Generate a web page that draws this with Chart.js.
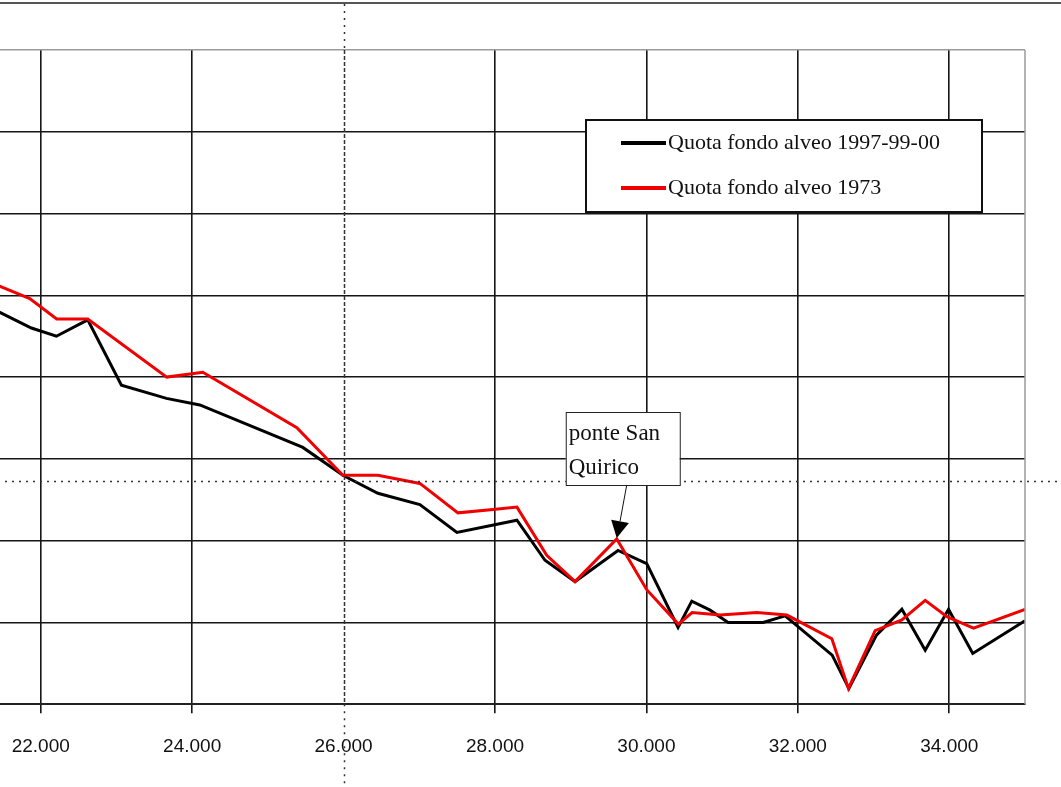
<!DOCTYPE html>
<html>
<head>
<meta charset="utf-8">
<script src="https://cdn.jsdelivr.net/npm/chart.js@4.4.0/dist/chart.umd.min.js"></script>
<style>
html, body { margin:0; padding:0; background:#fff; overflow:hidden; }
#wrap { position:absolute; left:-100px; top:0; width:1161px; height:787px; }
</style>
</head>
<body>
<div id="wrap"><canvas id="profilo" width="1161" height="787"></canvas></div>
<script>
// progressiva (m) e quota fondo alveo
const nomi = ['Quota fondo alveo 1997-99-00', 'Quota fondo alveo 1973'];

const kmRilievo = [21440, 21877, 22207, 22621, 23066, 23661, 24101, 25462, 25991, 26453, 27008, 27497, 28290, 28660, 29057, 29625, 30004, 30418, 30599, 30841, 31079, 31541, 31832, 32453, 32674, 33035, 33374, 33682, 33990, 34310, 35000];
const quotaRilievo = [64.0, 63.0, 62.5, 63.5, 59.5, 58.7, 58.3, 55.7, 54.0, 52.9, 52.2, 50.5, 51.25, 48.8, 47.5, 49.4, 48.6, 44.7, 46.3, 45.75, 45.0, 45.0, 45.4, 43.0, 40.96, 44.2, 45.8, 43.3, 45.8, 43.1, 45.1];

const km1973 = [21440, 21855, 22211, 22621, 23665, 24141, 25383, 25991, 26453, 27008, 27511, 27973, 28290, 28683, 29057, 29608, 30004, 30422, 30603, 30973, 31458, 31855, 32449, 32668, 33021, 33374, 33682, 33969, 34320, 35000];
const quota1973 = [65.6, 64.8, 63.55, 63.55, 60.0, 60.3, 56.9, 54.0, 54.0, 53.5, 51.7, 51.9, 52.05, 49.1, 47.5, 50.1, 47.0, 44.9, 45.6, 45.45, 45.6, 45.45, 44.0, 40.96, 44.5, 45.15, 46.35, 45.35, 44.65, 45.8];

const tickKm = [22000, 24000, 26000, 28000, 30000, 32000, 34000];

const kmPonte = 29608; // ponte San Quirico
const kmCursore = 26000;
const quotaCursore = 53.64;
const kmMin = 21000, kmMax = 35000;

const ctx = document.getElementById('profilo').getContext('2d');

const decorazioni = {
    id: 'decorazioni',
    afterDraw(chart) {
        const c = chart.ctx;
        const ca = chart.chartArea;
        const W = chart.width, H = chart.height;
        const xs = chart.scales.x, ys = chart.scales.y;
        c.save();

        // riga in alto
        c.fillStyle = '#555';
        c.fillRect(0, 2, W, 2);

        // bordo destro
        c.strokeStyle = '#9a9a9a';
        c.lineWidth = 1.5;
        c.beginPath();
        c.moveTo(ca.right, ca.top);
        c.lineTo(ca.right, ca.bottom);
        c.stroke();

        // cursore tratteggiato
        const xc = Math.round(xs.getPixelForValue(kmCursore)) + 0.5;
        const yc = Math.round(ys.getPixelForValue(quotaCursore)) + 0.5;
        c.strokeStyle = '#333';
        c.lineWidth = 1.5;
        c.setLineDash([2, 5]);
        c.beginPath();
        c.moveTo(xc, 4); c.lineTo(xc, ca.top);
        c.moveTo(xc, ca.bottom); c.lineTo(xc, H);
        c.moveTo(0, yc); c.lineTo(W, yc);
        c.stroke();
        c.setLineDash([4, 2]);
        c.beginPath();
        c.moveTo(xc, ca.top); c.lineTo(xc, ca.bottom);
        c.stroke();
        c.setLineDash([]);

        // legenda
        const lx = ca.right - 439, ly = ca.top + 70;
        c.fillStyle = '#fff';
        c.fillRect(lx, ly, 396, 92);
        c.strokeStyle = '#111';
        c.lineWidth = 2;
        c.strokeRect(lx, ly, 396, 92);
        c.font = '22px "Liberation Serif"';
        c.textBaseline = 'middle';
        chart.data.datasets.forEach((ds, i) => {
            const yy = ly + 23 + i * 45;
            c.strokeStyle = ds.borderColor;
            c.lineWidth = 4;
            c.beginPath();
            c.moveTo(lx + 35, yy); c.lineTo(lx + 80, yy);
            c.stroke();
            c.fillStyle = '#111';
            c.fillText(ds.label, lx + 82, yy);
        });

        // etichetta ponte San Quirico
        const meta = chart.getDatasetMeta(1);
        const pt = meta.data[km1973.indexOf(kmPonte)];
        const tx = pt.x, ty = pt.y;
        c.fillStyle = '#fff';
        c.fillRect(tx - 51, ty - 127, 114, 73);
        c.strokeStyle = '#222';
        c.lineWidth = 1;
        c.strokeRect(tx - 50.5, ty - 126.5, 114, 73);
        c.fillStyle = '#111';
        c.font = '23px "Liberation Serif"';
        c.textBaseline = 'alphabetic';
        c.fillText('ponte San', tx - 48, ty - 99);
        c.fillText('Quirico', tx - 48, ty - 65);
        // freccia
        const x0 = tx + 10, y0 = ty - 54;
        const dx = tx - x0, dy = ty - y0;
        const len = Math.hypot(dx, dy);
        const ux = dx / len, uy = dy / len;
        const bx = tx - ux * 18, by = ty - uy * 18;
        c.strokeStyle = '#111';
        c.lineWidth = 1;
        c.beginPath();
        c.moveTo(x0, y0); c.lineTo(bx, by);
        c.stroke();
        c.fillStyle = '#000';
        c.beginPath();
        c.moveTo(tx, ty - 1);
        c.lineTo(bx - uy * 9, by + ux * 9);
        c.lineTo(bx + uy * 9, by - ux * 9);
        c.closePath();
        c.fill();

        c.restore();
    }
};

const graficoProfilo = new Chart(ctx, {
    type: 'line',
    data: {
        datasets: [{
            label: nomi[0],
            data: kmRilievo.map((k, i) => ({ x: k, y: quotaRilievo[i] })),
            borderColor: '#000000',
            borderWidth: 3,
            pointRadius: 0,
            tension: 0,
            order: 1
        }, {
            label: nomi[1],
            data: km1973.map((k, i) => ({ x: k, y: quota1973[i] })),
            borderColor: '#f00000',
            borderWidth: 3,
            pointRadius: 0,
            tension: 0,
            order: 0
        }]
    },
    options: {
        responsive: false,
        animation: false,
        layout: {
            padding: { left: 65, right: 36, top: 50, bottom: 7 }
        },
        plugins: {
            legend: { display: false },
            tooltip: { enabled: false }
        },
        scales: {
            x: {
                type: 'linear',
                min: kmMin,
                max: kmMax,
                afterBuildTicks: axis => {
                    axis.ticks = tickKm.map(v => ({ value: v }));
                },
                ticks: {
                    padding: 22,
                    color: '#111',
                    font: { family: 'Liberation Sans', size: 19 },
                    callback: v => (v / 1000).toFixed(3)
                },
                grid: {
                    color: c => c.tick && c.tick.value === kmCursore ? 'rgba(0,0,0,0)' : '#151515',
                    tickColor: c => c.tick && c.tick.value === kmCursore ? 'rgba(0,0,0,0)' : '#151515',
                    lineWidth: 1.6,
                    tickLength: 9
                },
                border: { color: '#222', width: 2 }
            },
            y: {
                min: 40,
                max: 80,
                ticks: { stepSize: 5, display: false },
                grid: {
                    color: c => c.tick && c.tick.value === 80 ? '#9a9a9a' : '#151515',
                    lineWidth: 1.6,
                    drawTicks: false
                },
                border: { display: false }
            }
        }
    },
    plugins: [decorazioni]
});
</script>
</body>
</html>
